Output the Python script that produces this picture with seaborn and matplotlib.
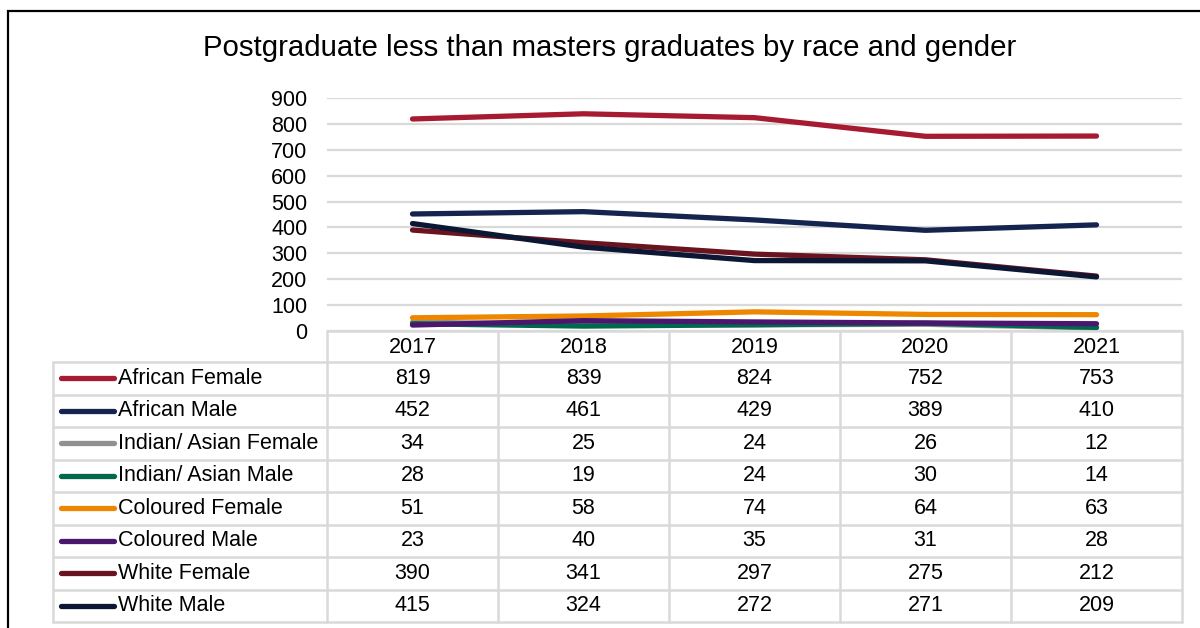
import numpy as np
import pandas as pd
import seaborn as sns
import matplotlib.pyplot as plt
from matplotlib.lines import Line2D
from matplotlib.patches import Rectangle

# ---- data ----
years = ["2017", "2018", "2019", "2020", "2021"]
series_names = [
    "African Female", "African Male", "Indian/ Asian Female", "Indian/ Asian Male",
    "Coloured Female", "Coloured Male", "White Female", "White Male",
]
african_female = [819, 839, 824, 752, 753]
african_male = [452, 461, 429, 389, 410]
indian_asian_female = [34, 25, 24, 26, 12]
indian_asian_male = [28, 19, 24, 30, 14]
coloured_female = [51, 58, 74, 64, 63]
coloured_male = [23, 40, 35, 31, 28]
white_female = [390, 341, 297, 275, 212]
white_male = [415, 324, 272, 271, 209]
series_values = [
    african_female, african_male, indian_asian_female, indian_asian_male,
    coloured_female, coloured_male, white_female, white_male,
]
series_colors = [
    "#A61B32", "#14244F", "#8E9091", "#00694B",
    "#EE8700", "#4B176E", "#6A1420", "#0C1733",
]

# ---- style ----
sns.set_theme(style="white")
plt.rcParams["font.family"] = ["Liberation Sans", "DejaVu Sans"]
FS = 15.5

W, H = 1200, 628
fig = plt.figure(figsize=(W / 100, H / 100), dpi=100)


def fx(px):
    return px / W


def fy(py):
    return 1 - py / H


# outer frame (open to the right and bottom)
fig.add_artist(Rectangle((fx(8), fy(700)), fx(1300) - fx(8), fy(11) - fy(700),
                         transform=fig.transFigure, fill=False, ec="black", lw=1.6))

fig.text(fx(610), fy(48), "Postgraduate less than masters graduates by race and gender",
         ha="center", va="center", fontsize=21.2, color="black")

# ---- line chart ----
ax = fig.add_axes([fx(327), fy(331), fx(1182) - fx(327), fy(98) - fy(331)])

records = []
for name, vals in zip(series_names, series_values):
    for yr, v in zip(years, vals):
        records.append({"year": yr, "series": name, "value": v})
df = pd.DataFrame(records)

sns.lineplot(data=df, x="year", y="value", hue="series", hue_order=series_names,
             palette=series_colors, linewidth=3.8, legend=False, ax=ax, sort=False)
for ln in ax.lines:
    ln.set_solid_capstyle("round")
    ln.set_solid_joinstyle("round")

ax.set_xlim(-0.5, len(years) - 0.5)
ax.set_ylim(0, 900)
ax.set_yticks(range(0, 901, 100))
ax.yaxis.grid(True, color="#D9D9D9", lw=1.6)
ax.xaxis.grid(False)
ax.set_axisbelow(True)
for s in ax.spines.values():
    s.set_visible(False)
ax.set_xlabel("")
ax.set_ylabel("")
ax.set_xticks([])
ax.tick_params(axis="y", length=0, pad=14, labelsize=FS, labelcolor="black")

# ---- data table ----
grid_kw = dict(color="#D9D9D9", lw=1.8, transform=fig.transFigure)
col_edges = [327 + 171 * i for i in range(len(years) + 1)]
label_left = 53
header_top, header_bot = 331, 362
row_h = 32.5
row_edges = [header_bot + row_h * i for i in range(len(series_names) + 1)]

fig.add_artist(Line2D([fx(col_edges[0]), fx(col_edges[-1])], [fy(header_top)] * 2, **grid_kw))
for xe in col_edges:
    fig.add_artist(Line2D([fx(xe)] * 2, [fy(header_top), fy(row_edges[-1])], **grid_kw))
for ye in row_edges:
    fig.add_artist(Line2D([fx(label_left), fx(col_edges[-1])], [fy(ye)] * 2, **grid_kw))
fig.add_artist(Line2D([fx(label_left)] * 2, [fy(row_edges[0]), fy(row_edges[-1])], **grid_kw))

for i, yr in enumerate(years):
    cx = (col_edges[i] + col_edges[i + 1]) / 2
    fig.text(fx(cx), fy((header_top + header_bot) / 2 + 1), yr, ha="center", va="center",
             fontsize=FS, color="black")

for r, (name, vals, colr) in enumerate(zip(series_names, series_values, series_colors)):
    cy = (row_edges[r] + row_edges[r + 1]) / 2
    fig.add_artist(Line2D([fx(61), fx(114)], [fy(cy)] * 2, color=colr, lw=3.8,
                          solid_capstyle="round", transform=fig.transFigure))
    fig.text(fx(118), fy(cy), name, ha="left", va="center", fontsize=FS, color="black")
    for i, v in enumerate(vals):
        cx = (col_edges[i] + col_edges[i + 1]) / 2
        fig.text(fx(cx), fy(cy), f"{v}", ha="center", va="center", fontsize=FS, color="black")

fig.savefig("out.png", dpi=100, facecolor="white")
